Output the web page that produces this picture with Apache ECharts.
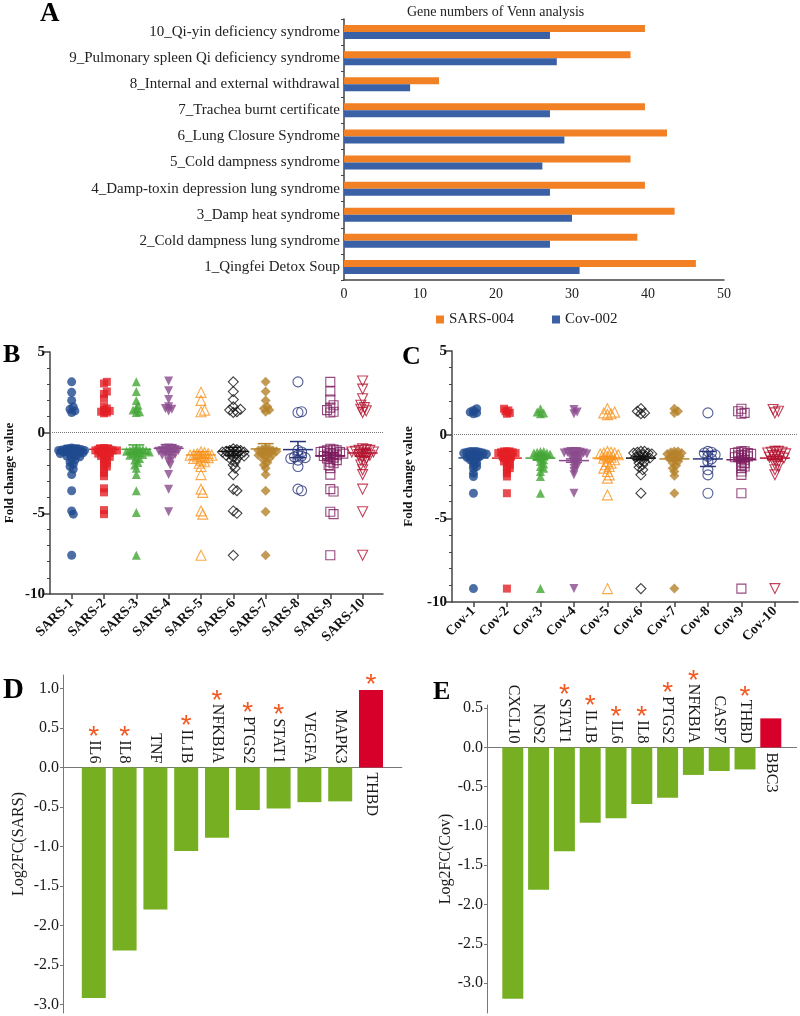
<!DOCTYPE html>
<html><head><meta charset="utf-8">
<script src="https://cdn.jsdelivr.net/npm/echarts@6/dist/echarts.min.js"></script>
<style>html,body{margin:0;padding:0;background:#fff}#c{width:800px;height:1016px}</style>
</head><body><div id="c"></div>
<script>
const SERIF = '"Liberation Serif", "Times New Roman", serif';

// ---------- Panel A data ----------
const aCategories = ['1_Qingfei Detox Soup','2_Cold dampness lung syndrome','3_Damp heat syndrome','4_Damp-toxin depression lung syndrome','5_Cold dampness syndrome','6_Lung Closure Syndrome','7_Trachea burnt certificate','8_Internal and external withdrawal','9_Pulmonary spleen Qi deficiency syndrome','10_Qi-yin deficiency syndrome'];
const aSars = [46.3, 38.6, 43.5, 39.6, 37.7, 42.5, 39.6, 12.5, 37.7, 39.6];
const aCov  = [31.0, 27.1, 30.0, 27.1, 26.1, 29.0, 27.1, 8.7, 28.0, 27.1];

// ---------- Panel B data ----------
const sarsCategories = ['SARS-1','SARS-2','SARS-3','SARS-4','SARS-5','SARS-6','SARS-7','SARS-8','SARS-9','SARS-10'];
const sarsValues = [
  [3.15,2.5,2.0,1.6,1.45,1.35,1.25,-0.95,-1.0,-1.0,-1.02,-1.05,-1.05,-1.08,-1.1,-1.1,-1.12,-1.15,-1.15,-1.2,-1.2,-1.25,-1.3,-1.3,-1.35,-1.4,-1.45,-1.5,-1.6,-1.7,-1.8,-1.95,-2.1,-2.25,-2.6,-3.6,-4.85,-5.05,-7.6],
  [3.15,3.05,2.55,2.4,2.1,1.6,1.5,1.4,1.35,1.3,1.25,1.2,-0.95,-1.0,-1.0,-1.05,-1.05,-1.1,-1.1,-1.1,-1.15,-1.2,-1.2,-1.25,-1.3,-1.35,-1.4,-1.45,-1.5,-1.6,-1.7,-1.8,-1.9,-2.0,-2.1,-2.25,-2.5,-2.7,-3.45,-3.7,-4.8,-5.05],
  [3.15,2.55,2.0,1.7,1.5,1.4,1.3,1.25,-0.95,-1.0,-1.0,-1.05,-1.1,-1.1,-1.15,-1.2,-1.2,-1.25,-1.3,-1.35,-1.4,-1.5,-1.6,-1.7,-1.85,-2.0,-2.2,-2.6,-3.6,-4.95,-7.6],
  [3.2,2.6,2.05,1.6,1.5,1.45,1.35,-0.95,-1.0,-1.0,-1.05,-1.1,-1.1,-1.15,-1.2,-1.25,-1.3,-1.35,-1.4,-1.5,-1.6,-1.8,-2.0,-2.6,-3.5,-4.9],
  [2.5,2.0,1.4,1.3,-1.2,-1.25,-1.3,-1.3,-1.35,-1.4,-1.4,-1.45,-1.5,-1.5,-1.55,-1.6,-1.7,-1.8,-1.9,-2.1,-2.6,-3.5,-3.7,-4.85,-5.05,-7.6],
  [3.15,2.55,2.05,1.6,1.45,1.4,1.3,1.25,-1.0,-1.05,-1.1,-1.1,-1.15,-1.2,-1.2,-1.25,-1.3,-1.3,-1.35,-1.4,-1.45,-1.5,-1.6,-1.7,-1.8,-2.0,-2.2,-2.6,-3.5,-3.6,-4.85,-5.0,-7.6],
  [3.15,2.55,2.0,1.6,1.5,1.4,1.3,-0.95,-1.0,-1.05,-1.1,-1.1,-1.15,-1.2,-1.25,-1.3,-1.35,-1.4,-1.5,-1.6,-1.7,-1.85,-2.0,-2.2,-2.6,-3.6,-4.9,-7.6],
  [3.15,1.3,1.25,-1.1,-1.2,-1.4,-1.45,-1.5,-1.55,-1.6,-1.7,-2.1,-3.5,-3.6],
  [3.15,2.55,2.05,1.7,1.55,1.4,1.3,1.25,-1.0,-1.05,-1.1,-1.1,-1.15,-1.2,-1.2,-1.25,-1.3,-1.3,-1.35,-1.4,-1.45,-1.5,-1.55,-1.6,-1.7,-1.8,-1.9,-2.0,-2.2,-2.6,-3.5,-3.65,-4.9,-5.05,-7.6],
  [3.2,2.7,2.1,1.7,1.55,1.45,1.35,1.25,-1.0,-1.05,-1.1,-1.1,-1.15,-1.2,-1.2,-1.25,-1.3,-1.35,-1.4,-1.5,-1.6,-1.7,-1.85,-2.0,-2.3,-2.6,-3.5,-4.9,-7.6]
];
const sarsMean = [-1.07,-1.03,-1.03,-0.97,-1.38,-1.16,-1.01,-1.05,-1.43,-1.26];
const sarsSem  = [0.28,0.25,0.27,0.23,0.2,0.25,0.33,0.5,0.2,0.2];

// ---------- Panel C data ----------
const covCategories = ['Cov-1','Cov-2','Cov-3','Cov-4','Cov-5','Cov-6','Cov-7','Cov-8','Cov-9','Cov-10'];
const covValues = [
  [1.55,1.45,1.35,1.3,1.25,-1.0,-1.0,-1.0,-1.05,-1.05,-1.1,-1.1,-1.15,-1.2,-1.2,-1.25,-1.3,-1.35,-1.4,-1.45,-1.5,-1.6,-1.7,-1.8,-1.9,-2.0,-2.3,-2.5,-3.5,-9.2],
  [1.55,1.45,1.4,1.3,1.25,-1.0,-1.0,-1.0,-1.05,-1.05,-1.1,-1.1,-1.15,-1.15,-1.2,-1.25,-1.3,-1.35,-1.4,-1.5,-1.55,-1.6,-1.7,-1.8,-1.9,-2.0,-2.1,-2.3,-2.5,-3.5,-9.2],
  [1.55,1.35,1.3,1.25,-1.0,-1.0,-1.05,-1.1,-1.1,-1.15,-1.2,-1.25,-1.3,-1.4,-1.5,-1.6,-1.75,-1.9,-2.0,-2.2,-2.5,-3.5,-9.2],
  [1.5,1.35,1.25,-1.0,-1.0,-1.0,-1.05,-1.05,-1.1,-1.1,-1.15,-1.2,-1.25,-1.3,-1.35,-1.4,-1.5,-1.6,-1.7,-1.8,-1.9,-2.0,-2.2,-2.4,-3.5,-9.2],
  [1.55,1.35,1.3,1.25,1.2,-1.0,-1.05,-1.1,-1.1,-1.15,-1.2,-1.3,-1.35,-1.4,-1.5,-1.6,-1.7,-1.8,-1.9,-2.0,-2.2,-2.4,-2.6,-3.6,-9.2],
  [1.55,1.4,1.3,1.25,-1.0,-1.0,-1.05,-1.1,-1.1,-1.15,-1.2,-1.25,-1.3,-1.35,-1.4,-1.5,-1.6,-1.7,-1.8,-1.95,-2.1,-2.4,-3.5,-9.2],
  [1.55,1.4,1.3,-1.0,-1.0,-1.05,-1.1,-1.15,-1.2,-1.25,-1.3,-1.4,-1.5,-1.6,-1.7,-1.85,-2.0,-2.2,-2.45,-3.5,-9.2],
  [1.3,-1.0,-1.05,-1.1,-1.2,-1.3,-1.45,-1.6,-2.1,-2.4,-3.5],
  [1.55,1.4,1.3,1.25,-1.0,-1.0,-1.05,-1.1,-1.1,-1.15,-1.2,-1.2,-1.25,-1.3,-1.35,-1.4,-1.5,-1.6,-1.7,-1.8,-1.9,-2.0,-2.2,-2.4,-3.5,-9.2],
  [1.5,1.4,1.3,-1.0,-1.0,-1.05,-1.05,-1.1,-1.15,-1.2,-1.25,-1.3,-1.35,-1.4,-1.5,-1.6,-1.75,-1.9,-2.1,-2.4,-9.2]
];
const covMean = [-1.39,-1.4,-1.4,-1.55,-1.4,-1.4,-1.45,-1.45,-1.5,-1.4];
const covSem  = [0.1,0.1,0.1,0.1,0.1,0.1,0.1,0.45,0.1,0.1];

// ---------- Panel D data ----------
const dGenes  = ['IL6','IL8','TNF','IL1B','NFKBIA','PTGS2','STAT1','VEGFA','MAPK3','THBD'];
const dValues = [-2.92,-2.32,-1.80,-1.06,-0.89,-0.54,-0.52,-0.44,-0.43,0.98];
const dStars  = [1,1,0,1,1,1,1,0,0,1];
const dTicks  = [-3.0,-2.5,-2.0,-1.5,-1.0,-0.5,0.0,0.5,1.0];

// ---------- Panel E data ----------
const eGenes  = ['CXCL10','NOS2','STAT1','IL1B','IL6','IL8','PTGS2','NFKBIA','CASP7','THBD','BBC3'];
const eValues = [-3.20,-1.81,-1.32,-0.96,-0.90,-0.72,-0.64,-0.35,-0.30,-0.28,0.37];
const eStars  = [0,0,1,1,1,1,1,1,0,1,0];
const eTicks  = [-3.0,-2.5,-2.0,-1.5,-1.0,-0.5,0.0,0.5];

// ---------- styles ----------
const groupColors = ['#1f4a8e','#e41f26','#44a636','#8a4a8c','#f7931e','#111111','#b5822a','#28357c','#7c1b5e','#b3132f'];
const groupSymbols = ['circle','rect','triangle','triangle','triangle','diamond','diamond','circle','rect','triangle'];
const groupRotate = [0,0,0,180,0,0,0,0,0,180];
const groupHollow = [false,false,false,false,true,true,false,true,true,true];
const groupSize = [9,8,9,9,10,10,10,10,9,10];

// simple beeswarm: horizontal offsets computed from the values only
function swarm(vals, center, pxX, pxY, d, maxOff) {
  const placed = [], out = [];
  const sorted = vals.slice().sort((a, b) => Math.abs(a) - Math.abs(b));
  const step = d * 0.5;
  for (const v of sorted) {
    const y = v * pxY;
    let best = 0, bestScore = -1;
    for (let s = 0; s < 400; s++) {
      const cand = s === 0 ? 0 : (s % 2 ? 1 : -1) * Math.ceil(s / 2) * step;
      if (Math.abs(cand) > maxOff) break;
      let minD = Infinity;
      for (const p of placed) minD = Math.min(minD, Math.hypot(p[0] - cand, p[1] - y));
      if (minD >= d) { best = cand; bestScore = Infinity; break; }
      if (minD > bestScore) { bestScore = minD; best = cand; }
    }
    placed.push([best, y]);
    out.push([center + best / pxX, v]);
  }
  return out;
}

function meanRender(halfW, capW) {
  return function (params, api) {
    const x = api.value(0), m = api.value(1), s = api.value(2);
    const pm = api.coord([x, m]), pt = api.coord([x, m + s]), pb = api.coord([x, m - s]);
    const style = { stroke: groupColors[params.dataIndex], lineWidth: 1.5 };
    return { type: 'group', children: [
      { type: 'line', shape: { x1: pm[0] - halfW, y1: pm[1], x2: pm[0] + halfW, y2: pm[1] }, style },
      { type: 'line', shape: { x1: pt[0], y1: pt[1], x2: pb[0], y2: pb[1] }, style },
      { type: 'line', shape: { x1: pt[0] - capW, y1: pt[1], x2: pt[0] + capW, y2: pt[1] }, style },
      { type: 'line', shape: { x1: pb[0] - capW, y1: pb[1], x2: pb[0] + capW, y2: pb[1] }, style }
    ]};
  };
}

const mctx = document.createElement('canvas').getContext('2d');
const GENE_FONT = '16px ' + SERIF;
function tw(t) { mctx.font = GENE_FONT; return mctx.measureText(t).width; }
const STAR_STYLE = { text: '*', font: '28px "Liberation Sans", Arial, sans-serif', fill: '#f05a22', align: 'center', verticalAlign: 'middle' };

function geneRender(genes, vals, stars) {
  return function (params, api) {
    const i = params.dataIndex, v = vals[i];
    const p0 = api.coord([i + 1, 0]);
    const pv = api.coord([i + 1, v]);
    const ch = [];
    if (v < 0) {
      ch.push({ type: 'text', x: p0[0], y: p0[1] - 4, rotation: -Math.PI / 2,
        style: { text: genes[i], font: GENE_FONT, fill: '#1a1a1a', align: 'right', verticalAlign: 'middle' } });
      if (stars[i]) ch.push({ type: 'text', x: p0[0], y: p0[1] - 4 - tw(genes[i]) - 3, style: STAR_STYLE });
    } else {
      ch.push({ type: 'text', x: p0[0], y: p0[1] + 5, rotation: -Math.PI / 2,
        style: { text: genes[i], font: GENE_FONT, fill: '#1a1a1a', align: 'left', verticalAlign: 'middle' } });
      if (stars[i]) ch.push({ type: 'text', x: pv[0], y: pv[1] - 5, style: STAR_STYLE });
    }
    return { type: 'group', children: ch };
  };
}

const AX = '#444';
const tickNums = [1,2,3,4,5,6,7,8,9,10];

function scatterSeries(values, axisIdx, pxX, pxY) {
  return values.map((vals, g) => ({
    type: 'scatter', xAxisIndex: axisIdx, yAxisIndex: axisIdx, silent: true, z: 2,
    data: swarm(vals, g + 1, pxX, pxY, groupSize[g] * 0.36, 13),
    symbol: groupSymbols[g], symbolSize: groupSize[g], symbolRotate: groupRotate[g],
    itemStyle: groupHollow[g] ? { color: 'rgba(255,255,255,0)', borderColor: groupColors[g], borderWidth: 1.1 } : { color: groupColors[g] },
    markLine: g === 0 ? { silent: true, symbol: ['none','none'], label: { show: false },
      lineStyle: { type: 'dotted', color: '#777', width: 1 }, data: [{ yAxis: 0 }] } : undefined
  }));
}

function scatterXAxis(idx, min, max, cats) {
  return { type: 'value', gridIndex: idx, min, max, splitLine: { show: false },
    axisLine: { show: true, onZero: false, lineStyle: { color: AX, width: 1.5 } },
    axisTick: { show: true, length: 5, customValues: tickNums, lineStyle: { color: AX, width: 1.5 } },
    axisLabel: { customValues: tickNums, formatter: v => cats[Math.round(v) - 1], rotate: 45, margin: 7,
      fontFamily: SERIF, fontWeight: 'bold', fontSize: 14, color: '#111' } };
}
function scatterYAxis(idx, gap) {
  return { type: 'value', gridIndex: idx, min: -10, max: 5, interval: 5, splitLine: { show: false },
    name: 'Fold change value', nameLocation: 'middle', nameGap: gap,
    nameTextStyle: { fontFamily: SERIF, fontWeight: 'bold', fontSize: 13, color: '#111' },
    axisLine: { show: true, onZero: false, lineStyle: { color: AX, width: 1.5 } },
    axisTick: { show: true, length: 6, lineStyle: { color: AX, width: 1.5 } },
    minorTick: { show: true, splitNumber: 5, length: 3, lineStyle: { color: AX, width: 1 } },
    axisLabel: { fontFamily: SERIF, fontWeight: 'bold', fontSize: 15, color: '#111', margin: 5 } };
}
function barYAxis(idx, min, max, ticks, name, gap) {
  return { type: 'value', gridIndex: idx, min, max, splitLine: { show: false },
    name, nameLocation: 'middle', nameGap: gap,
    nameTextStyle: { fontFamily: SERIF, fontSize: 16, color: '#1a1a1a' },
    axisLine: { show: true, lineStyle: { color: '#777', width: 1 } },
    axisTick: { show: true, length: 3, customValues: ticks, lineStyle: { color: '#777' } },
    axisLabel: { customValues: ticks, formatter: v => v.toFixed(1), margin: 4,
      fontFamily: SERIF, fontSize: 16, color: '#1a1a1a' } };
}
function barXAxis(idx, genes) {
  return { type: 'category', gridIndex: idx, data: [''].concat(genes, ['']), boundaryGap: false,
    axisLine: { show: true, onZero: true, lineStyle: { color: '#777', width: 1 } },
    axisTick: { show: false }, axisLabel: { show: false }, splitLine: { show: false } };
}

const chart = echarts.init(document.getElementById('c'), null, { renderer: 'canvas' });
const letter = (t, x, y, size) => ({ type: 'text', left: x, top: y,
  style: { text: t, font: 'bold ' + size + 'px ' + SERIF, fill: '#000' } });

chart.setOption({
  animation: false,
  backgroundColor: '#fff',
  title: { text: 'Gene numbers of Venn analysis', left: 402, top: 0,
    textStyle: { fontFamily: SERIF, fontWeight: 'normal', fontSize: 14, color: '#222' } },
  legend: { data: ['SARS-004', 'Cov-002'], left: 431, top: 307, icon: 'rect', itemWidth: 8, itemHeight: 8,
    itemGap: 38, textStyle: { fontFamily: SERIF, fontSize: 15, color: '#222' } },
  graphic: [letter('A', 40, 1, 27), letter('B', 3, 342, 26), letter('C', 402, 344, 26),
            letter('D', 3, 676, 29), letter('E', 433, 679, 26)],
  grid: [
    { left: 344, top: 19, width: 380, height: 261, outerBoundsMode: 'none' },
    { left: 50, top: 352, width: 333, height: 242, outerBoundsMode: 'none' },
    { left: 452, top: 351, width: 346, height: 251, outerBoundsMode: 'none' },
    { left: 63, top: 675, width: 338.8, height: 338, outerBoundsMode: 'none' },
    { left: 487, top: 705, width: 309.6, height: 308, outerBoundsMode: 'none' }
  ],
  xAxis: [
    { type: 'value', gridIndex: 0, min: 0, max: 50, interval: 10, splitLine: { show: false },
      axisLine: { show: true, onZero: false, lineStyle: { color: AX, width: 1.5 } }, axisTick: { show: false },
      axisLabel: { fontFamily: SERIF, fontSize: 14, color: '#222', margin: 7 } },
    scatterXAxis(1, 0.33, 10.63, sarsCategories),
    scatterXAxis(2, 0.36, 10.69, covCategories),
    barXAxis(3, dGenes),
    barXAxis(4, eGenes)
  ],
  yAxis: [
    { type: 'category', gridIndex: 0, data: aCategories,
      axisLine: { show: true, lineStyle: { color: AX, width: 1.5 } },
      axisTick: { show: true, length: 3, lineStyle: { color: AX } },
      axisLabel: { fontFamily: SERIF, fontSize: 15, color: '#222', margin: 4 } },
    scatterYAxis(1, 34),
    scatterYAxis(2, 37),
    barYAxis(3, -3.11, 1.17, dTicks, 'Log2FC(SARS)', 36),
    barYAxis(4, -3.38, 0.54, eTicks, 'Log2FC(Cov)', 33)
  ],
  series: [
    { type: 'bar', name: 'SARS-004', xAxisIndex: 0, yAxisIndex: 0, data: aSars, barWidth: 7, barGap: '0%',
      itemStyle: { color: '#f28025' }, silent: true },
    { type: 'bar', name: 'Cov-002', xAxisIndex: 0, yAxisIndex: 0, data: aCov, barWidth: 7, barGap: '0%',
      itemStyle: { color: '#3a61a6' }, silent: true },
    ...scatterSeries(sarsValues, 1, 32.3, 16.13),
    { type: 'custom', xAxisIndex: 1, yAxisIndex: 1, z: 5, silent: true, renderItem: meanRender(15, 8),
      data: sarsMean.map((m, i) => [i + 1, m, sarsSem[i]]), encode: { x: 0, y: 1 } },
    ...scatterSeries(covValues, 2, 33.5, 16.73),
    { type: 'custom', xAxisIndex: 2, yAxisIndex: 2, z: 5, silent: true, renderItem: meanRender(15, 8),
      data: covMean.map((m, i) => [i + 1, m, covSem[i]]), encode: { x: 0, y: 1 } },
    { type: 'bar', xAxisIndex: 3, yAxisIndex: 3, barWidth: 24, silent: true,
      data: [null].concat(dValues.map(v => ({ value: v, itemStyle: { color: v < 0 ? '#76b022' : '#d6002a' } })), [null]) },
    { type: 'custom', xAxisIndex: 3, yAxisIndex: 3, z: 6, silent: true, renderItem: geneRender(dGenes, dValues, dStars),
      data: dValues.map((v, i) => [i + 1, v]), encode: { x: 0, y: 1 } },
    { type: 'bar', xAxisIndex: 4, yAxisIndex: 4, barWidth: 21, silent: true,
      data: [null].concat(eValues.map(v => ({ value: v, itemStyle: { color: v < 0 ? '#76b022' : '#d6002a' } })), [null]) },
    { type: 'custom', xAxisIndex: 4, yAxisIndex: 4, z: 6, silent: true, renderItem: geneRender(eGenes, eValues, eStars),
      data: eValues.map((v, i) => [i + 1, v]), encode: { x: 0, y: 1 } }
  ]
});
</script></body></html>
